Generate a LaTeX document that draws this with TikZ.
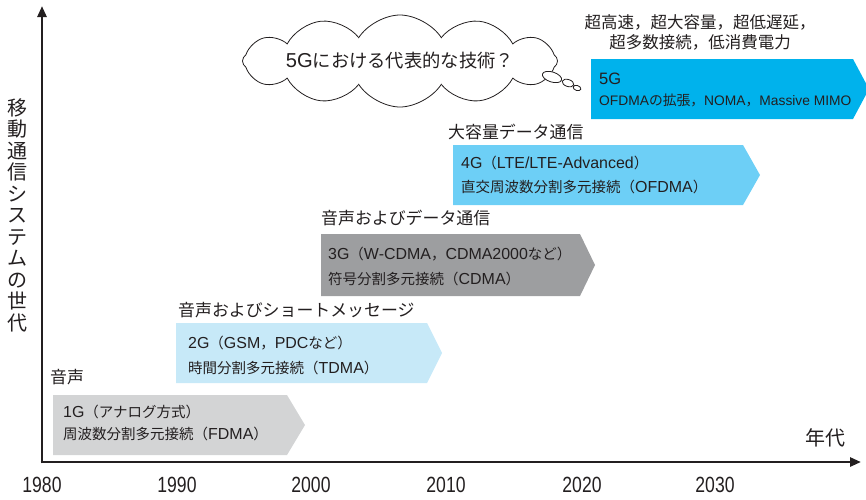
\documentclass[tikz,border=0pt]{standalone}
\usepackage{fontspec}
\setmainfont{Noto Sans CJK JP}
\newfontfamily\yearfont[FakeStretch=0.8]{Liberation Sans}
\newfontfamily\latf[Scale=1.1]{Liberation Sans}
\newfontfamily\latg{Liberation Sans}
\newcommand\LA[1]{{\latf #1}}
\newcommand\LB[1]{{\latg #1}}
\usetikzlibrary{arrows.meta,shapes.symbols,shapes.geometric}
\definecolor{ink}{HTML}{231F20}
\definecolor{c1g}{HTML}{D3D4D5}
\definecolor{c2g}{HTML}{C7E9F8}
\definecolor{c3g}{HTML}{9D9EA0}
\definecolor{c4g}{HTML}{6DCFF6}
\definecolor{c5g}{HTML}{00B2EC}
\begin{document}
\begin{tikzpicture}[x=1pt,y=-1pt,
  every node/.style={text=ink, inner sep=0pt},
  boxtext/.style={anchor=west, font=\fontsize{14.5}{15}\selectfont},
  gentitle/.style={anchor=west, font=\fontsize{16.9}{18}\selectfont},
  yearlab/.style={font=\yearfont\fontsize{22}{24}\selectfont},
  axisline/.style={line width=2.6pt, draw=ink, -{Triangle[length=11pt,width=9pt]}},
  bubble/.style={ellipse, draw=ink, line width=0.8pt, fill=white}
]
\useasboundingbox (0,0) rectangle (866,499);

% generation arrows
\fill[c1g] (53,395) -- (287,395) -- (305,425) -- (287,455) -- (53,455) -- cycle;
\fill[c2g] (176,323) -- (427,323) -- (442,353) -- (427,383) -- (176,383) -- cycle;
\fill[c3g] (321,234) -- (580,234) -- (595,265) -- (580,296) -- (321,296) -- cycle;
\fill[c4g] (453,145) -- (743,145) -- (760,175) -- (743,205) -- (453,205) -- cycle;
\fill[c5g] (591,59) -- (853,59) -- (869,89) -- (853,119) -- (591,119) -- cycle;

% texts in arrows
\node[boxtext] (g1a) at (63,412) {\LA{1G}（アナログ方式）};
\node[boxtext] (g1b) at (63,434) {周波数分割多元接続（\LA{FDMA}）};
\node[boxtext] (g2a) at (188,343) {\LA{2G}（\LA{GSM}，\LA{PDC}など）};
\node[boxtext] (g2b) at (188,368) {時間分割多元接続（\LA{TDMA}）};
\node[boxtext] (g3a) at (328,254) {\LA{3G}（\LA{W-CDMA}，\LA{CDMA2000}など）};
\node[boxtext] (g3b) at (328,279) {符号分割多元接続（\LA{CDMA}）};
\node[boxtext] (g4a) at (461,163) {\LA{4G}（\LA{LTE/LTE-Advanced}）};
\node[boxtext] (g4b) at (461,187) {直交周波数分割多元接続（\LA{OFDMA}）};
\node[boxtext, font=\fontsize{15}{16}\selectfont] (g5a) at (599,79) {\LA{5G}};
\node[boxtext, font=\fontsize{13.8}{14}\selectfont] (g5b) at (599,100) {\LB{OFDMA}の拡張，\LB{NOMA}，\LB{Massive MIMO}};

% generation titles
\node[gentitle] (t1) at (50,377) {音声};
\node[gentitle] (t2) at (178,310) {音声およびショートメッセージ};
\node[gentitle] (t3) at (321,218) {音声およびデータ通信};
\node[gentitle] (t4) at (448,132) {大容量データ通信};
\node[align=center, font=\fontsize{16.5}{20}\selectfont] (t5) at (700,32)
  {超高速，超大容量，超低遅延，\\超多数接続，低消費電力};

% thought cloud
\node[cloud, draw=ink, line width=0.8pt, fill=white, cloud puffs=12, cloud puff arc=115,
  cloud ignores aspect, minimum width=283, minimum height=92,
  font=\fontsize{18.3}{19}\selectfont] (cloud) at (400,61) {\LA{5G}における代表的な技術？};
\node[bubble, minimum width=20, minimum height=10, rotate=-18] (b1) at (552,77) {};
\node[bubble, minimum width=12, minimum height=7, rotate=-18] (b2) at (568,83) {};
\node[bubble, minimum width=8, minimum height=5, rotate=-18] (b3) at (577,88) {};

% axes
\coordinate (O) at (42,462);
\coordinate (ytop) at (42,6);
\coordinate (xend) at (861,462);
\draw[axisline] ([yshift=-1.3pt]O) -- (ytop);
\draw[axisline] ([xshift=-1.3pt]O) -- (xend);

% axis labels
\node[align=center, font=\fontsize{20}{21.5}\selectfont] (ylab) at (18,215)
  {移\\動\\通\\信\\シ\\ス\\テ\\ム\\の\\世\\代};
\node[font=\fontsize{20}{22}\selectfont] (xlab) at (825,438) {年代};

% years
\node[yearlab] (y1980) at (42,485) {1980};
\node[yearlab] (y1990) at (177,485) {1990};
\node[yearlab] (y2000) at (311,485) {2000};
\node[yearlab] (y2010) at (446,485) {2010};
\node[yearlab] (y2020) at (582,485) {2020};
\node[yearlab] (y2030) at (715,485) {2030};
\end{tikzpicture}
\end{document}
